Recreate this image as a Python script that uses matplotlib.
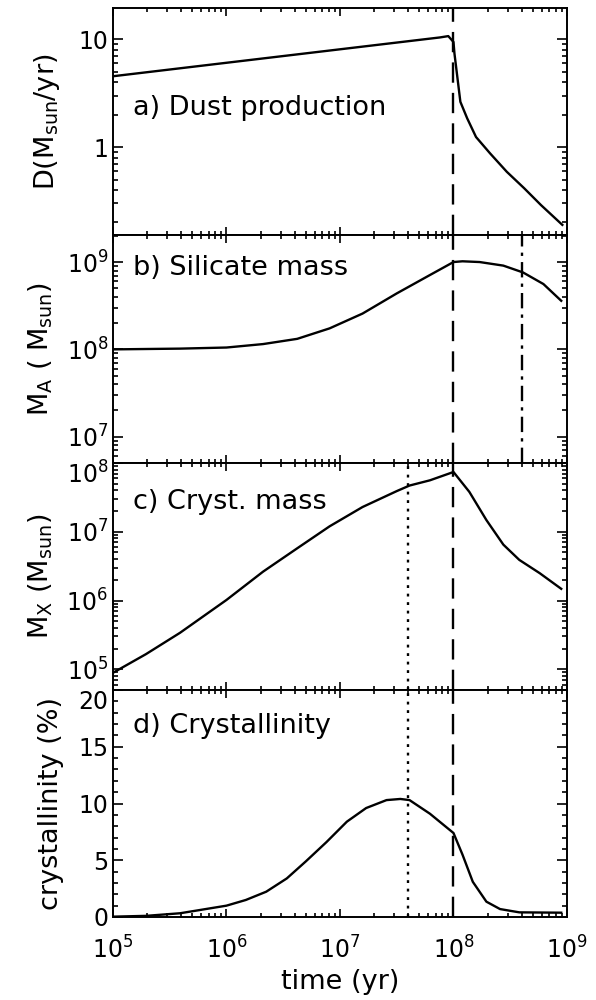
import numpy as np
import matplotlib
matplotlib.use('Agg')
import matplotlib.pyplot as plt
import matplotlib.transforms as mtransforms
from matplotlib.ticker import LogLocator, MultipleLocator, NullFormatter, FixedLocator, FixedFormatter

# a) dust production (Msun/yr)
t_dust = [1e5, 7.6e7, 9.0e7, 1.0e8, 1.02e8, 1.15e8, 1.32e8, 1.58e8, 2.1e8, 2.95e8, 4.2e8, 5.9e8, 9.1e8]
dust = [4.54, 10.4, 10.7, 9.44, 7.38, 2.63, 1.85, 1.24, 0.875, 0.59, 0.415, 0.29, 0.19]

# b) silicate mass (Msun)
t_sil = [1e5, 3.9e5, 1e6, 2.1e6, 4.2e6, 8.1e6, 1.58e7, 3.16e7, 6.2e7, 1e8, 1.2e8, 1.7e8, 2.75e8, 4.1e8, 6.2e8, 8.9e8]
sil = [1.0e8, 1.02e8, 1.05e8, 1.15e8, 1.32e8, 1.74e8, 2.57e8, 4.37e8, 7.1e8, 1.0e9, 1.02e9, 1.0e9, 9.1e8, 7.6e8, 5.6e8, 3.6e8]

# c) crystalline mass (Msun)
t_cry = [1e5, 1.95e5, 3.9e5, 1e6, 2.1e6, 4.2e6, 8.1e6, 1.58e7, 3.16e7, 4.1e7, 6.2e7, 1e8, 1.38e8, 1.95e8, 2.75e8, 3.8e8, 5.75e8, 8.9e8]
cry = [8.9e4, 1.66e5, 3.4e5, 1.02e6, 2.63e6, 5.75e6, 1.2e7, 2.29e7, 3.9e7, 4.7e7, 5.6e7, 7.4e7, 3.8e7, 1.48e7, 6.5e6, 3.9e6, 2.5e6, 1.48e6]

# d) crystallinity (%)
t_frac = [1e5, 1.95e5, 3.9e5, 1e6, 1.48e6, 2.24e6, 3.4e6, 5e6, 7.6e6, 1.15e7, 1.7e7, 2.57e7, 3.4e7, 4.1e7,
          6.2e7, 1e8, 1.2e8, 1.48e8, 1.95e8, 2.57e8, 3.8e8, 8.9e8]
frac = [0.03, 0.1, 0.33, 1.0, 1.5, 2.23, 3.4, 4.9, 6.6, 8.4, 9.6, 10.3, 10.4, 10.3,
        9.1, 7.4, 5.5, 3.1, 1.35, 0.7, 0.41, 0.38]

t_end = 1e8      # dashed
t_dot = 4e7      # dotted
t_dashdot = 4e8  # dash-dot

fs = 19.5
tfs = 17
plt.rcParams['font.family'] = 'DejaVu Sans'
plt.rcParams['mathtext.fontset'] = 'dejavusans'

fig = plt.figure(figsize=(5.96, 10), dpi=100)
left, width = 0.1896, 0.7617
bounds = [(0.765, 0.992), (0.537, 0.765), (0.310, 0.537), (0.083, 0.310)]
axes = []
for b, t in bounds:
    ax = fig.add_axes([left, b, width, t - b], sharex=axes[0] if axes else None)
    axes.append(ax)

dash = (0, (8.6, 4.3))
dots = (0, (1.2, 2.4))
dashdot = (0, (6.5, 2.6, 1.4, 2.6))
lw = 1.7

for ax in axes:
    ax.set_xscale('log')
    ax.set_xlim(1e5, 1e9)
    for s in ax.spines.values():
        s.set_linewidth(1.4)
    ax.tick_params(which='both', direction='in', top=True, right=True, labelsize=tfs, width=1.2)
    ax.tick_params(axis='x', which='major', length=5.5)
    ax.tick_params(axis='x', which='minor', length=3)
    ax.tick_params(axis='y', which='major', length=7.5)
    ax.tick_params(axis='y', which='minor', length=3.8)
    ax.xaxis.set_major_locator(LogLocator(base=10, numticks=10))
    ax.xaxis.set_minor_locator(LogLocator(base=10, subs=np.arange(2, 10), numticks=20))
    ax.axvline(t_end, color='k', lw=lw, linestyle=dash)

for ax in axes[:3]:
    ax.tick_params(axis='x', labelbottom=False)

ax = axes[0]
ax.plot(t_dust, dust, color='k', lw=lw)
ax.set_yscale('log')
ax.set_ylim(0.153, 19.5)
ax.yaxis.set_major_locator(FixedLocator([1, 10]))
ax.yaxis.set_major_formatter(FixedFormatter(['1', '10']))
ax.yaxis.set_minor_locator(LogLocator(base=10, subs=np.arange(2, 10), numticks=20))
ax.yaxis.set_minor_formatter(NullFormatter())
ax.set_ylabel(r'D(M$_{\rm sun}$/yr)', fontsize=fs, labelpad=12)
ax.text(0.045, 0.56, 'a) Dust production', transform=ax.transAxes, fontsize=fs, va='center')

ax = axes[1]
ax.plot(t_sil, sil, color='k', lw=lw)
ax.axvline(t_dashdot, color='k', lw=lw, linestyle=dashdot)
ax.set_yscale('log')
ax.set_ylim(5e6, 2.04e9)
ax.yaxis.set_major_locator(FixedLocator([1e7, 1e8, 1e9]))
ax.yaxis.set_minor_locator(LogLocator(base=10, subs=np.arange(2, 10), numticks=20))
ax.yaxis.set_minor_formatter(NullFormatter())
ax.set_ylabel(r'M$_{\rm A}$ ( M$_{\rm sun}$)', fontsize=fs, labelpad=8)
ax.text(0.045, 0.855, 'b) Silicate mass', transform=ax.transAxes, fontsize=fs, va='center')

ax = axes[2]
ax.plot(t_cry, cry, color='k', lw=lw)
ax.axvline(t_dot, color='k', lw=lw, linestyle=dots)
ax.set_yscale('log')
ax.set_ylim(5e4, 1e8)
ax.yaxis.set_major_locator(FixedLocator([1e5, 1e6, 1e7, 1e8]))
ax.yaxis.set_minor_locator(LogLocator(base=10, subs=np.arange(2, 10), numticks=20))
ax.yaxis.set_minor_formatter(NullFormatter())
ax.set_ylabel(r'M$_{\rm X}$ (M$_{\rm sun}$)', fontsize=fs, labelpad=8)
ax.text(0.045, 0.83, 'c) Cryst. mass', transform=ax.transAxes, fontsize=fs, va='center')

ax = axes[3]
ax.plot(t_frac, frac, color='k', lw=lw)
ax.axvline(t_dot, color='k', lw=lw, linestyle=dots)
ax.set_ylim(0, 20)
ax.yaxis.set_major_locator(FixedLocator([0, 5, 10, 15, 20]))
ax.yaxis.set_minor_locator(MultipleLocator(1))
ax.set_ylabel('crystallinity (%)', fontsize=fs, labelpad=10)
ax.set_xlabel('time (yr)', fontsize=fs, labelpad=4)
ax.tick_params(axis='x', pad=14)
ax.text(0.045, 0.84, 'd) Crystallinity', transform=ax.transAxes, fontsize=fs, va='center')

# nudge the top-most y labels of panels c and d down a little, like the original
fig.canvas.draw()
shift = mtransforms.ScaledTranslation(0, -7 / 72, fig.dpi_scale_trans)
for ax, top in [(axes[2], 1e8), (axes[3], 20)]:
    for tick in ax.yaxis.get_major_ticks():
        if np.isclose(tick.get_loc(), top):
            tick.label1.set_transform(tick.label1.get_transform() + shift)

fig.savefig('out.png', dpi=100)
